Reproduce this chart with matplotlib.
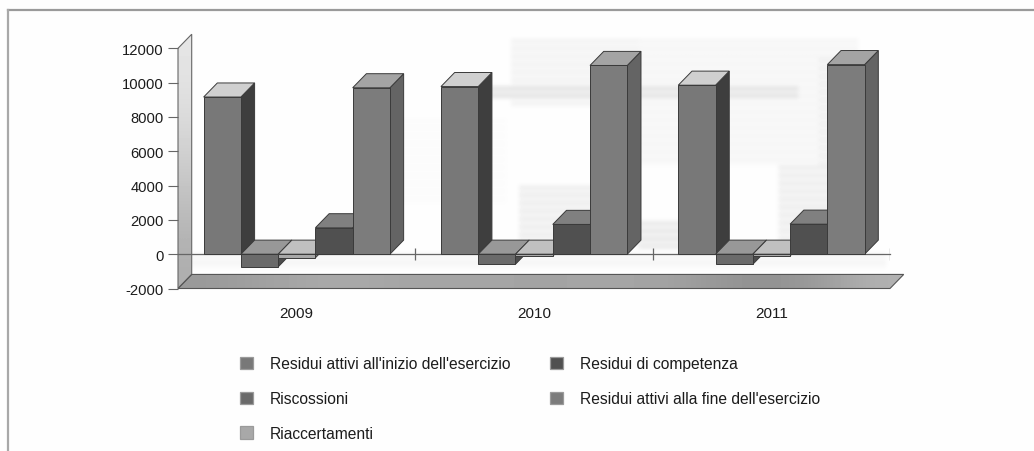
#!/usr/bin/env python3
import numpy as np
import matplotlib
matplotlib.use("Agg")
import matplotlib.pyplot as plt
from matplotlib.patches import Patch, Polygon, Rectangle

plt.rcParams['font.family'] = ['Liberation Sans', 'DejaVu Sans']
plt.rcParams['axes.unicode_minus'] = False

years = ["2009", "2010", "2011"]
labels = ["Residui attivi all'inizio dell'esercizio", "Riscossioni", "Riaccertamenti",
          "Residui di competenza", "Residui attivi alla fine dell'esercizio"]
residui_inizio = [9160, 9770, 9850]
riscossioni = [-740, -585, -590]
riaccertamenti = [-210, -115, -100]
competenza = [1540, 1735, 1750]
residui_fine = [9700, 11000, 11050]
y_ticks = [-2000, 0, 2000, 4000, 6000, 8000, 10000, 12000]

series = [residui_inizio, riscossioni, riaccertamenti, competenza, residui_fine]
# front, top, side
shades = [("#787878", "#d0d0d0", "#3e3e3e"),
          ("#6a6a6a", "#989898", "#4c4c4c"),
          ("#a8a8a8", "#c0c0c0", "#7a7a7a"),
          ("#505050", "#808080", "#484848"),
          ("#7c7c7c", "#a4a4a4", "#646464")]

W, H = 1034, 452
BAR_W = 0.157
MARGIN = 0.108
DEPTH_X = 13.7 / 237.3
DEPTH_Y = 820
EDGE = "#3a3a3a"
TEXT = "#1c1c1c"

fig = plt.figure(figsize=(W / 100, H / 100), dpi=100, facecolor="#fefefe")

# paper show-through, painted coarse and drawn soft
CELL = 4
paper = np.full((H // CELL + 1, W // CELL + 1), 0.995)
for px, py, pw, ph, tone in [(515, 40, 125, 70, 0.95), (520, 190, 120, 60, 0.93), (640, 40, 220, 130, 0.96),
                             (780, 170, 70, 90, 0.93), (480, 88, 320, 14, 0.89), (190, 258, 700, 16, 0.96),
                             (640, 225, 50, 30, 0.91), (820, 60, 40, 110, 0.94), (400, 120, 110, 90, 0.985)]:
    rows = np.arange(py // CELL, (py + ph) // CELL)
    paper[rows[::2], px // CELL:(px + pw) // CELL] = tone
    paper[rows[1::2], px // CELL:(px + pw) // CELL] = (tone + 0.995) / 2
bg = fig.add_axes([0, 0, 1, 1], zorder=-1)
bg.imshow(paper, cmap="gray", vmin=0, vmax=1, aspect="auto", interpolation="bicubic")
bg.axis("off")

ax = fig.add_axes([178 / W, 1 - 289.5 / H, 712 / W, 240.2 / H])
ax.patch.set_alpha(0)
for s in ax.spines.values():
    s.set_visible(False)

# scan frame
fig.add_artist(plt.Line2D([8 / W, 1], [1 - 10.5 / H, 1 - 10.5 / H], color="#9a9a9a", lw=1.6))
fig.add_artist(plt.Line2D([8 / W, 8 / W], [0, 1 - 10.5 / H], color="#a8a8a8", lw=1.6))

# side wall and floor
wall_pts = [(0, -2000), (DEPTH_X, -2000 + DEPTH_Y), (DEPTH_X, 12000 + DEPTH_Y), (0, 12000)]
wall_im = ax.imshow(np.array([[0.90], [0.85], [0.76], [0.68]]), cmap="gray", vmin=0, vmax=1, aspect="auto",
                    extent=(0, DEPTH_X, -2000, 12000 + DEPTH_Y), interpolation="bicubic", zorder=1)
wall = Polygon(wall_pts, closed=True, fc="none", ec="#666666", lw=0.8, zorder=1.1, clip_on=False)
ax.add_patch(wall)
wall_im.set_clip_box(fig.bbox)
wall_im.set_clip_path(wall)

floor_pts = [(0, -2000), (3, -2000), (3 + DEPTH_X, -2000 + DEPTH_Y), (DEPTH_X, -2000 + DEPTH_Y)]
floor_im = ax.imshow(np.array([[0.60, 0.64, 0.67, 0.64, 0.65, 0.64, 0.65, 0.64, 0.57, 0.58, 0.70]]), cmap="gray",
                     vmin=0, vmax=1, aspect="auto", extent=(0, 3 + DEPTH_X, -2000, -2000 + DEPTH_Y),
                     interpolation="bicubic", zorder=1)
floor = Polygon(floor_pts, closed=True, fc="none", ec="#555555", lw=0.8, zorder=1.1, clip_on=False)
ax.add_patch(floor)
floor_im.set_clip_box(fig.bbox)
floor_im.set_clip_path(floor)
ax.set_xlim(0, 3)
ax.set_ylim(-2000, 12000)

# zero axis and group ticks
ax.plot([0, 3], [0, 0], color="#666666", lw=0.9, zorder=2, clip_on=False)
ax.vlines([1, 2, 3], -350, 350, color="#666666", lw=0.9, zorder=2)


def draw_bar(x, value, front, top, side, z):
    base = min(value, 0)
    peak = max(value, 0)
    ax.add_patch(Polygon([(x + BAR_W, base), (x + BAR_W + DEPTH_X, base + DEPTH_Y),
                          (x + BAR_W + DEPTH_X, peak + DEPTH_Y), (x + BAR_W, peak)],
                         closed=True, fc=side, ec=EDGE, lw=0.7, zorder=z, clip_on=False))
    ax.add_patch(Polygon([(x, peak), (x + BAR_W, peak), (x + BAR_W + DEPTH_X, peak + DEPTH_Y),
                          (x + DEPTH_X, peak + DEPTH_Y)],
                         closed=True, fc=top, ec=EDGE, lw=0.7, zorder=z, clip_on=False))
    ax.add_patch(Rectangle((x, base), BAR_W, peak - base, fc=front, ec=EDGE, lw=0.7, zorder=z, clip_on=False))


for g in range(len(years)):
    for j, values in enumerate(series):
        draw_bar(g + MARGIN + j * BAR_W, values[g], *shades[j], z=3 + g + j * 0.1)

ax.set_yticks(y_ticks)
ax.tick_params(axis="y", length=7, width=0.8, color="#666666", pad=3.5, labelsize=10.6, labelcolor=TEXT)
ax.set_xticks([0.5, 1.5, 2.5], years)
ax.tick_params(axis="x", length=0, pad=12.5, labelsize=11, labelcolor=TEXT)

handles = [Patch(fc=shades[j][0], ec="#9a9a9a", lw=0.9) for j in range(len(labels))]
fig.legend(handles, labels, loc="upper left", bbox_to_anchor=(240 / W, 1 - 357.5 / H), ncol=2,
           frameon=False, fontsize=11.25, labelcolor=TEXT, handlelength=0.82, handleheight=0.82,
           handletextpad=1.1, labelspacing=1.26, columnspacing=2.55, borderpad=0, borderaxespad=0)

fig.savefig("out.png", dpi=100, facecolor=fig.get_facecolor())
